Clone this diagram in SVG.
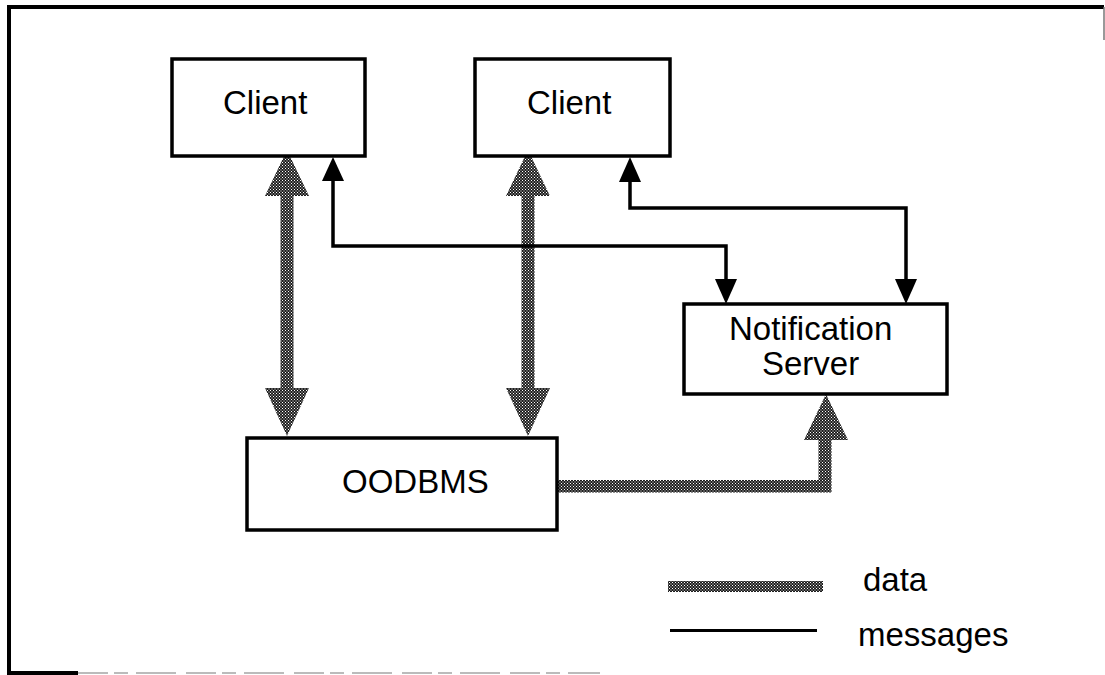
<svg xmlns="http://www.w3.org/2000/svg" width="1105" height="675" viewBox="0 0 1105 675">
  <defs>
    <!-- dithered fill used for the data paths -->
    <pattern id="dither" width="3" height="3" patternUnits="userSpaceOnUse">
      <rect width="3" height="3" fill="#1e1e1e"/>
      <rect x="0" y="0" width="1" height="1" fill="#ffffff"/>
      <rect x="1.5" y="1.5" width="1" height="1" fill="#ffffff"/>
    </pattern>
    <style>
      .box { fill: #fff; stroke: #000; stroke-width: 3.5; }
      .label { font-family: "Liberation Sans", Arial, sans-serif; font-size: 33px; fill: #000; }
      .msg { fill: none; stroke: #000; stroke-width: 3.5; stroke-linejoin: miter; }
      .head { fill: #000; stroke: none; }
      .data { fill: url(#dither); stroke: none; }
      .frame { fill: none; stroke: #000; stroke-width: 4; }
    </style>
  </defs>

  <rect width="1105" height="675" fill="#fff"/>

  <!-- outer frame -->
  <g id="frame">
    <path class="frame" d="M1104,7 L9,7 L9,673 L78,673"/>
    <path d="M1104,7 L1104,40" stroke="#777" stroke-width="1.5" fill="none"/>
    <path d="M78,673 L600,673" stroke="#bbb" stroke-width="2" stroke-dasharray="30 6 14 8 40 10" fill="none"/>
  </g>

  <!-- connectors -->
  <g id="connectors">
    <!-- data: Client 1 <-> OODBMS -->
    <path class="data" d="M287,150 L309,196 L293.5,196 L293.5,388 L309,388 L287,436 L265,388 L280.5,388 L280.5,196 L265,196 Z"/>
    <!-- data: Client 2 <-> OODBMS -->
    <path class="data" d="M528,150 L550,196 L534.5,196 L534.5,388 L550,388 L528,436 L506,388 L521.5,388 L521.5,196 L506,196 Z"/>
    <!-- data: OODBMS -> Notification Server -->
    <path class="data" d="M558,480 L818.5,480 L818.5,440 L804,440 L826,394 L848,440 L831.5,440 L831.5,492.5 L558,492.5 Z"/>

    <!-- messages: Client 1 <-> Notification Server -->
    <path class="msg" d="M333,180 L333,246 L726,246 L726,280"/>
    <path class="head" d="M333,157 L344,181 L322,181 Z"/>
    <path class="head" d="M726,304 L737,279 L715,279 Z"/>
    <!-- messages: Client 2 <-> Notification Server -->
    <path class="msg" d="M630,180 L630,208 L906,208 L906,281"/>
    <path class="head" d="M630,157 L641,182 L619,182 Z"/>
    <path class="head" d="M906,304 L917,279 L895,279 Z"/>
  </g>

  <!-- nodes -->
  <g id="client1">
    <rect class="box" x="172" y="59" width="193" height="97"/>
    <text class="label" x="223" y="114">Client</text>
  </g>
  <g id="client2">
    <rect class="box" x="475" y="59" width="195" height="97"/>
    <text class="label" x="527" y="114">Client</text>
  </g>
  <g id="notification-server">
    <rect class="box" x="684" y="304" width="263" height="90"/>
    <text class="label" x="729" y="340">Notification</text>
    <text class="label" x="762" y="375">Server</text>
  </g>
  <g id="oodbms">
    <rect class="box" x="247" y="438" width="310" height="92"/>
    <text class="label" x="342" y="493">OODBMS</text>
  </g>

  <!-- legend -->
  <g id="legend">
    <rect class="data" x="668" y="581" width="155" height="11"/>
    <text class="label" x="863" y="591">data</text>
    <path d="M670,630.5 L817,630.5" stroke="#000" stroke-width="3" fill="none"/>
    <text class="label" x="858" y="646">messages</text>
  </g>
</svg>
